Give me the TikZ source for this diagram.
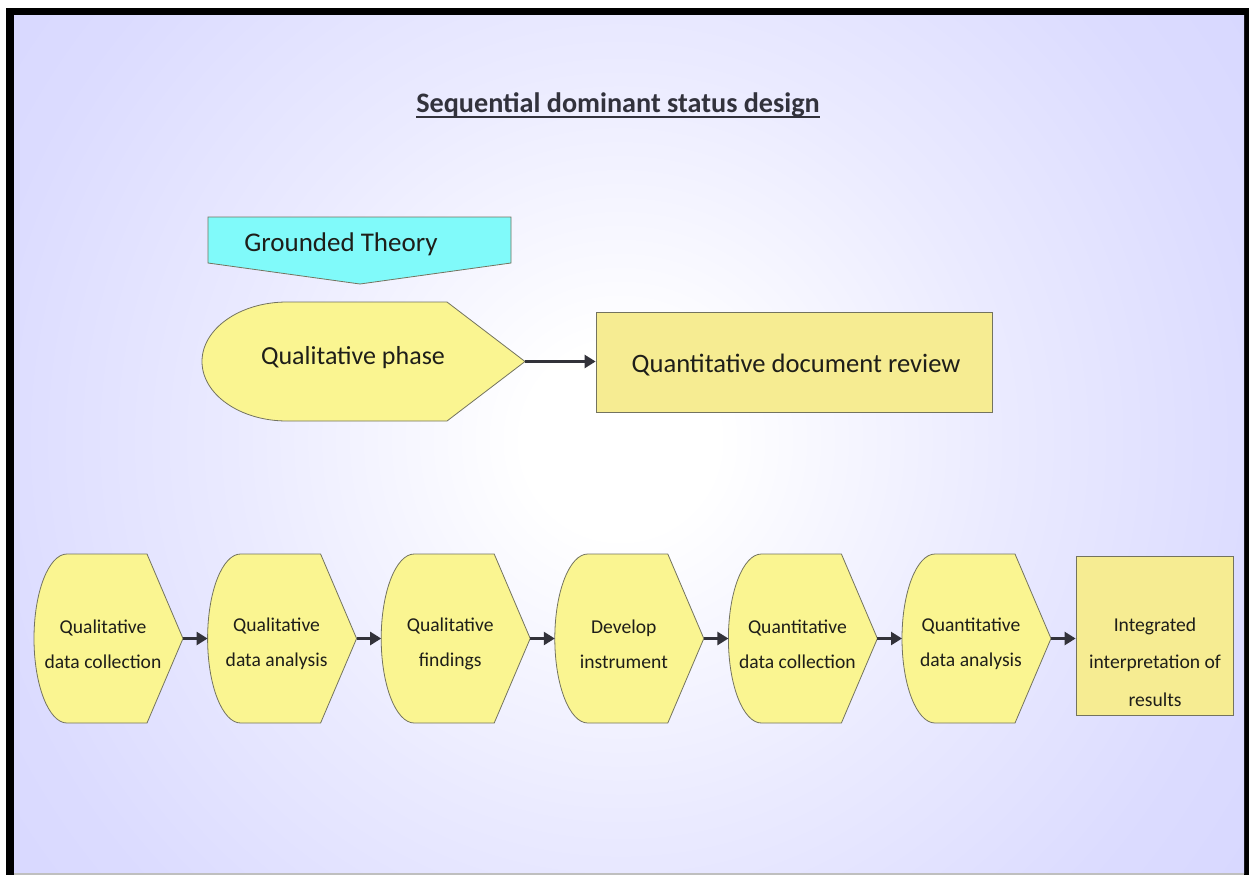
\documentclass[tikz,border=0pt]{standalone}
\usepackage{fontspec}
\setmainfont{Carlito}
\usetikzlibrary{arrows.meta}
\definecolor{lav}{RGB}{196,196,255}
\definecolor{dispfill}{RGB}{250,245,145}
\definecolor{rectfill}{RGB}{246,236,146}
\definecolor{cyanfill}{RGB}{128,250,250}
\definecolor{shapeline}{RGB}{115,115,95}
\definecolor{txtcol}{RGB}{30,30,25}
\definecolor{titlecol}{RGB}{50,50,60}
\definecolor{arrowcol}{RGB}{50,50,58}
\pgfdeclareradialshading{bgshade}{\pgfpoint{0bp}{0bp}}{color(0bp)=(white); color(3bp)=(white); color(12bp)=(lav!35!white); color(20bp)=(lav!60!white); color(44bp)=(lav); color(50bp)=(lav)}
\tikzset{
  dispbox/.style={fill=dispfill, draw=shapeline, line width=0.8pt},
  rectbox/.style={fill=rectfill, draw=shapeline, line width=0.8pt},
  cyanbox/.style={fill=cyanfill, draw=shapeline, line width=0.8pt},
  lbl/.style={text=txtcol, font=\fontsize{19.6}{35}\selectfont, align=center, inner sep=0pt},
  biglbl/.style={text=txtcol, font=\fontsize{26}{30}\selectfont, inner sep=0pt},
  conn/.style={draw=arrowcol, line width=2.4pt, -{Triangle[length=11pt,width=13pt]}},
}
% #1 name, #2 left x, #3 arc end x, #4 flat end x, #5 tip x, #6 top y, #7 bottom y
\newcommand\dispshape[7]{%
  \path[dispbox] (#3,#6) -- (#4,#6) -- (#5,{(#6+#7)/2}) -- (#4,#7) -- (#3,#7)
    arc[start angle=270, end angle=90, x radius={#3-#2}, y radius={(#6-#7)/2}] -- cycle;
  \coordinate (#1-tip) at (#5,{(#6+#7)/2});
  \coordinate (#1-left) at (#2,{(#6+#7)/2});
}
\begin{document}
\begin{tikzpicture}[x=1pt,y=1pt]
\useasboundingbox (0,0) rectangle (1249,-875);
\fill[white] (0,0) rectangle (1249,-875);
\fill[black] (6,-8) rectangle (1249,-875);
\begin{scope}
  \clip (14,-16) rectangle (1244,-873);
  \shade[shading=bgshade] (620,-440) circle (800);
\end{scope}
\fill[gray!50] (14,-873) rectangle (1244,-875);

% title
\node[inner sep=0pt, text=titlecol, font=\bfseries\fontsize{28.2}{32}\selectfont, anchor=base] (title) at (618,-112) {Sequential dominant status design};
\draw[titlecol, line width=1.6pt] ([yshift=-5pt]title.base west) -- ([yshift=-5pt]title.base east);

% Grounded theory
\path[cyanbox] (208,-217) -- (511,-217) -- (511,-263) -- (360,-284) -- (208,-263) -- cycle;
\node[biglbl, font=\fontsize{27}{30}\selectfont] (gt) at (341,-244) {Grounded Theory};

% Qualitative phase
\dispshape{qp}{202}{287}{447}{525}{-302}{-421}
\node[biglbl] (qpl) at (353,-358) {Qualitative phase};

% Quantitative document review
\node[rectbox, minimum width=396pt, minimum height=100pt, inner sep=0pt] (qdr) at (794,-362) {};
\node[biglbl, font=\fontsize{26.6}{30}\selectfont] (qdrl) at (796,-365) {Quantitative document review};
\draw[conn] (qp-tip) -- (qp-tip -| qdr.west);

% bottom row
\dispshape{s1}{34}{67}{147}{183}{-554}{-723}
\dispshape{s2}{207.6}{240.6}{320.6}{356.6}{-554}{-723}
\dispshape{s3}{381.2}{414.2}{494.2}{530.2}{-554}{-723}
\dispshape{s4}{554.8}{587.8}{667.8}{703.8}{-554}{-723}
\dispshape{s5}{728.4}{761.4}{841.4}{877.4}{-554}{-723}
\dispshape{s6}{902}{935}{1015}{1051}{-554}{-723}
\node[rectbox, minimum width=157pt, minimum height=159pt, inner sep=0pt] (s7) at (1154.5,-635.5) {};

\node[lbl] (t1) at (103,-644) {Qualitative\\data collection};
\node[lbl] (t2) at (276.6,-644) {Qualitative\\data analysis};
\node[lbl] (t3) at (450.2,-644) {Qualitative\\findings};
\node[lbl] (t4) at (623.8,-644) {Develop\\instrument};
\node[lbl] (t5) at (797.4,-644) {Quantitative\\data collection};
\node[lbl] (t6) at (971,-644) {Quantitative\\data analysis};
\node[lbl, font=\fontsize{19.6}{37.5}\selectfont] (t7) at (1155,-662) {Integrated\\interpretation of\\results};

\draw[conn] (s1-tip) -- (s2-left);
\draw[conn] (s2-tip) -- (s3-left);
\draw[conn] (s3-tip) -- (s4-left);
\draw[conn] (s4-tip) -- (s5-left);
\draw[conn] (s5-tip) -- (s6-left);
\draw[conn] (s6-tip) -- (s6-tip -| s7.west);
\end{tikzpicture}
\end{document}
